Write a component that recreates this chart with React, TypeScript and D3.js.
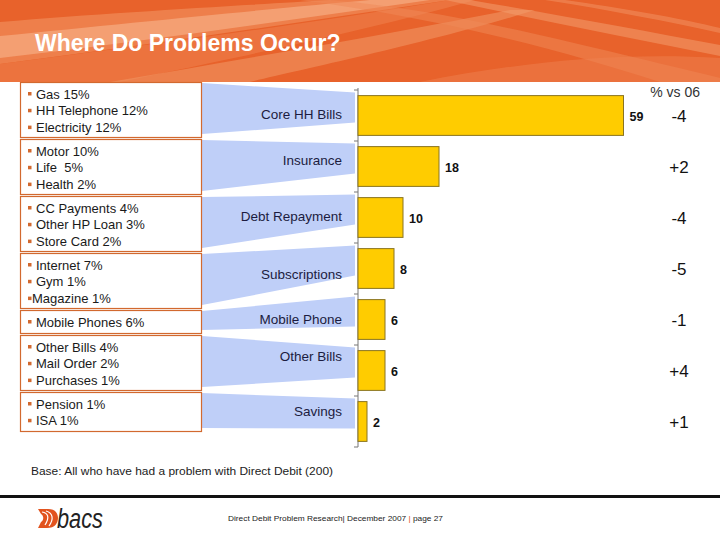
import React from "react";
import * as d3 from "d3";

const categories = ["Core HH Bills", "Insurance", "Debt Repayment", "Subscriptions", "Mobile Phone", "Other Bills", "Savings"];
const values = [59, 18, 10, 8, 6, 6, 2];
const changes = ["-4", "+2", "-4", "-5", "-1", "+4", "+1"];
const details = [
  ["Gas 15%", "HH Telephone 12%", "Electricity 12%"],
  ["Motor 10%", "Life\u00a0 5%", "Health 2%"],
  ["CC Payments 4%", "Other HP Loan 3%", "Store Card 2%"],
  ["Internet 7%", "Gym 1%", "Magazine 1%"],
  ["Mobile Phones 6%"],
  ["Other Bills 4%", "Mail Order 2%", "Purchases 1%"],
  ["Pension 1%", "ISA 1%"],
];
const title = "Where Do Problems Occur?";
const changeHeader = "% vs 06";
const baseNote = "Base: All who have had a problem with Direct Debit (200)";

const FONT = "Arial, 'Liberation Sans', Helvetica, sans-serif";
// vertical nudges of the funnel labels relative to the bar centre (layout only)
const labelShift = [-1.5, -6, -1.5, 5.5, 0, -14, -10];

export default function App() {
  const W = 720, H = 540;
  const y = d3.scaleBand<string>().domain(categories).range([90, 447]).paddingInner(0.22).paddingOuter(0.11);
  const x = d3.scaleLinear().domain([0, 80]).range([358, 718]);

  const boxes: { top: number; bottom: number }[] = [];
  let cur = 82;
  details.forEach((d) => {
    const h = 7 + 16 * d.length;
    boxes.push({ top: cur, bottom: cur + h });
    cur += h + 2;
  });

  const step = y.step();
  const tickYs = categories.map((c) => (y(c) as number) - (step - y.bandwidth()) / 2).concat([447]);
  const mid = (c: string) => (y(c) as number) + y.bandwidth() / 2;

  return (
    <svg width={W} height={H} style={{ position: "absolute", left: 0, top: 0, background: "#fff" }} fontFamily={FONT}>
      {/* header */}
      <rect x={0} y={0} width={W} height={82} fill="#e8622b" />
      <path d="M0,22 C120,12 250,5 330,0 L450,0 C300,22 150,45 0,64 Z" fill="#ee834f" opacity={0.9} />
      <path d="M0,36 C140,22 280,8 370,0 L430,0 C290,20 140,42 0,58 Z" fill="#f4a479" opacity={0.85} />
      <path d="M0,64 C150,45 300,25 450,0 L475,0 C350,35 200,65 120,82 L0,82 Z" fill="#ec7640" opacity={0.9} />
      <path d="M110,82 C250,58 400,32 510,10 L535,10 C440,40 300,70 250,82 Z" fill="#f09462" opacity={0.6} />
      <path d="M330,0 C450,10 560,40 720,78 L720,82 L660,82 C560,50 450,20 300,0 Z" fill="#ef8a57" opacity={0.5} />
      <path d="M470,0 C560,15 640,30 720,45 L720,56 C630,38 540,20 445,0 Z" fill="#f39c6d" opacity={0.55} />
      <path d="M565,0 C620,8 680,18 720,28 L720,33 C670,22 610,10 545,0 Z" fill="#f39c6d" opacity={0.45} />
      <path d="M420,82 C520,62 620,52 720,58 L720,82 Z" fill="#ef8654" opacity={0.45} />
      <text x={35} y={51} fill="#fff" fontSize={23} fontWeight="bold">{title}</text>

      {/* funnels */}
      {categories.map((c, i) => {
        const bt = y(c) as number;
        const b = boxes[i];
        const pts = [
          [202, b.top + 1],
          [355, bt - 3],
          [355, bt + 27],
          [202, b.bottom - 3],
        ];
        return <polygon key={"f" + c} points={pts.map((p) => p.join(",")).join(" ")} fill="#bfcff8" />;
      })}
      {categories.map((c, i) => (
        <text key={"fl" + c} x={342} y={mid(c) + labelShift[i] + 4.5} textAnchor="end" fontSize={13.5} fill="#1c1c40">
          {c}
        </text>
      ))}

      {/* left boxes */}
      {details.map((lines, i) => {
        const b = boxes[i];
        return (
          <g key={"b" + i}>
            <rect x={20.5} y={b.top + 0.5} width={181} height={b.bottom - b.top} fill="#fff" stroke="#d2692f" strokeWidth={1.2} />
            {lines.map((t, j) => {
              const ty = b.top + 12 + j * 16.8;
              const tight = i === 3 && j === 2;
              return (
                <g key={j}>
                  <rect x={tight ? 28 : 28} y={ty - 2} width={3.5} height={3.5} fill="#d2692f" />
                  <text x={tight ? 32 : 36} y={ty + 4.5} fontSize={13} fill="#1a1a1a">{t}</text>
                </g>
              );
            })}
          </g>
        );
      })}

      {/* axis */}
      <line x1={358} x2={358} y1={88} y2={447} stroke="#777" strokeWidth={1} />
      {tickYs.map((t, i) => (
        <line key={"t" + i} x1={354} x2={358} y1={t} y2={t} stroke="#777" />
      ))}

      {/* bars */}
      {categories.map((c, i) => (
        <g key={"bar" + c}>
          <rect x={x(0)} y={y(c)} width={x(values[i]) - x(0)} height={y.bandwidth()} fill="#ffcc00" stroke="#8a7420" strokeWidth={1} />
          <text x={x(values[i]) + 6} y={mid(c) + 5} fontSize={12.5} fontWeight="bold" fill="#111">{values[i]}</text>
          <text x={679} y={mid(c) + 6} textAnchor="middle" fontSize={17} fill="#111">{changes[i]}</text>
        </g>
      ))}
      <text x={700} y={97} textAnchor="end" fontSize={14} fill="#333">{changeHeader}</text>

      {/* base note */}
      <text x={31} y={475} fontSize={11.5} fill="#222" textLength={302} lengthAdjust="spacingAndGlyphs">{baseNote}</text>

      {/* footer */}
      <rect x={0} y={495} width={W} height={3} fill="#111" />
      <g>
        <path d="M38,509 L48,509 C56,509 58,514 58,518 C58,523 55,528 47,528 L38,528 L41,522 C44,520 44,516 41,514 Z" fill="#e2541f" />
        <path d="M42,512 C48,513 50,517 45,525" stroke="#fff" strokeWidth={1.2} fill="none" />
        <path d="M46,511 C53,513 54,519 49,526" stroke="#fff" strokeWidth={1.2} fill="none" />
        <text x={57} y={528} fontSize={27} fontStyle="italic" fill="#222" textLength={46} lengthAdjust="spacingAndGlyphs">bacs</text>
      </g>
      <text x={228} y={521} fontSize={8} fill="#222" textLength={215} lengthAdjust="spacingAndGlyphs">
        Direct Debit Problem Research| December 2007 <tspan fill="#e2541f">|</tspan> page 27
      </text>
    </svg>
  );
}
